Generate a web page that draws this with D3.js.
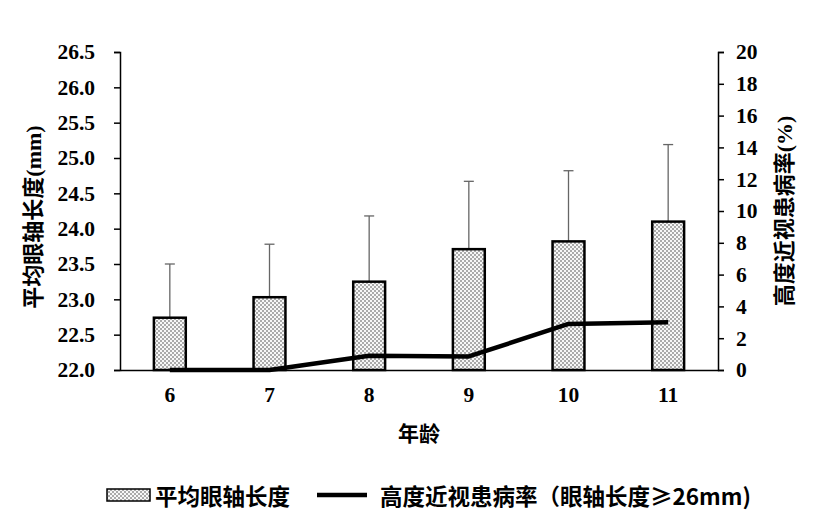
<!DOCTYPE html>
<html lang="zh">
<head>
    <meta charset="UTF-8">
    <script src="https://cdn.jsdelivr.net/npm/d3@7"></script>
    <title>平均眼轴长度</title>
    <style>
        body { margin: 0; background: #fff; }
    </style>
</head>
<body>
    <script>
        const w = 821;
        const h = 528;

        // data
        const ages = ["6", "7", "8", "9", "10", "11"];
        const axialLength = [22.74, 23.03, 23.25, 23.71, 23.82, 24.10];
        const axialSD = [0.76, 0.75, 0.93, 0.96, 1.00, 1.09];
        const highMyopia = [0, 0, 0.9, 0.85, 2.9, 3.0];
        const leftTicks = [22.0, 22.5, 23.0, 23.5, 24.0, 24.5, 25.0, 25.5, 26.0, 26.5];
        const rightTicks = [0, 2, 4, 6, 8, 10, 12, 14, 16, 18, 20];

        const plotL = 120, plotR = 718, plotT = 52, plotB = 370;
        const serif = "'Liberation Serif', 'Times New Roman', serif";
        const cjk = "'Noto Sans CJK SC', sans-serif";

        const svg = d3.select("body")
                        .append("svg")
                        .attr("width", w)
                        .attr("height", h);

        //dotted fill for the bars
        const pat = svg.append("defs")
                        .append("pattern")
                        .attr("id", "dots")
                        .attr("patternUnits", "userSpaceOnUse")
                        .attr("width", 4)
                        .attr("height", 4);
        pat.append("rect").attr("width", 4).attr("height", 4).attr("fill", "#f7f7f7");
        pat.append("circle").attr("cx", 1).attr("cy", 1).attr("r", 0.7).attr("fill", "#222");
        pat.append("circle").attr("cx", 3).attr("cy", 3).attr("r", 0.7).attr("fill", "#222");

        //scales
        const xScale = d3.scaleBand()
                            .domain(ages)
                            .range([plotL, plotR])
                            .paddingInner(0.68)
                            .paddingOuter(0.34);

        const yLeft = d3.scaleLinear()
                            .domain([22, 26.5])
                            .range([plotB, plotT]);

        const yRight = d3.scaleLinear()
                            .domain([0, 20])
                            .range([plotB, plotT]);

        //axes
        const leftAxis = svg.append("g")
            .attr("transform", "translate(" + plotL + ",0)")
            .call(d3.axisLeft(yLeft).tickValues(leftTicks).tickFormat(d3.format(".1f")).tickSize(6).tickPadding(19));

        const rightAxis = svg.append("g")
            .attr("transform", "translate(" + plotR + ",0)")
            .call(d3.axisRight(yRight).tickValues(rightTicks).tickSize(6).tickPadding(12));

        [leftAxis, rightAxis].forEach(g => {
            g.select(".domain").attr("stroke", "#000").attr("stroke-width", 1.5);
            g.selectAll(".tick line").attr("stroke", "#000").attr("stroke-width", 1.5);
            g.selectAll(".tick text")
                .attr("fill", "#000")
                .style("font-family", serif)
                .style("font-weight", "bold")
                .style("font-size", "21.5px");
        });

        //error bars (upper only)
        svg.selectAll(".err")
            .data(ages)
            .enter()
            .append("line")
            .attr("class", "err")
            .attr("x1", d => xScale(d) + xScale.bandwidth() / 2)
            .attr("x2", d => xScale(d) + xScale.bandwidth() / 2)
            .attr("y1", (d, i) => yLeft(axialLength[i]))
            .attr("y2", (d, i) => yLeft(axialLength[i] + axialSD[i]))
            .attr("stroke", "#666")
            .attr("stroke-width", 1.3);

        svg.selectAll(".cap")
            .data(ages)
            .enter()
            .append("line")
            .attr("class", "cap")
            .attr("x1", d => xScale(d) + xScale.bandwidth() / 2 - 5)
            .attr("x2", d => xScale(d) + xScale.bandwidth() / 2 + 5)
            .attr("y1", (d, i) => yLeft(axialLength[i] + axialSD[i]))
            .attr("y2", (d, i) => yLeft(axialLength[i] + axialSD[i]))
            .attr("stroke", "#666")
            .attr("stroke-width", 1.3);

        //bars
        svg.selectAll(".bar")
            .data(ages)
            .enter()
            .append("rect")
            .attr("class", "bar")
            .attr("x", d => xScale(d))
            .attr("y", (d, i) => yLeft(axialLength[i]))
            .attr("width", xScale.bandwidth())
            .attr("height", (d, i) => yLeft(22) - yLeft(axialLength[i]))
            .attr("fill", "url(#dots)")
            .attr("stroke", "#000")
            .attr("stroke-width", 2.5);

        //x axis (line only, no ticks)
        const xAxis = svg.append("g")
            .attr("transform", "translate(0," + plotB + ")")
            .call(d3.axisBottom(xScale).tickSize(0).tickPadding(17));
        xAxis.select(".domain").attr("stroke", "#000").attr("stroke-width", 1.5);
        xAxis.selectAll(".tick text")
            .attr("fill", "#000")
            .style("font-family", serif)
            .style("font-weight", "bold")
            .style("font-size", "21.5px");

        //prevalence line
        const line = d3.line()
                        .x((d, i) => xScale(ages[i]) + xScale.bandwidth() / 2)
                        .y(d => yRight(d));

        svg.append("path")
            .datum(highMyopia)
            .attr("d", line)
            .attr("fill", "none")
            .attr("stroke", "#000")
            .attr("stroke-width", 4.5)
            .attr("stroke-linejoin", "round");

        //axis titles
        svg.append("text")
            .attr("transform", "translate(33," + ((plotT + plotB) / 2 + 6) + ") rotate(-90)")
            .attr("text-anchor", "middle")
            .attr("dominant-baseline", "central")
            .style("font-family", serif + ", " + cjk)
            .style("font-weight", "bold")
            .style("font-size", "22px")
            .text("平均眼轴长度(mm)");

        svg.append("text")
            .attr("transform", "translate(784," + ((plotT + plotB) / 2) + ") rotate(-90)")
            .attr("text-anchor", "middle")
            .attr("dominant-baseline", "central")
            .style("font-family", serif + ", " + cjk)
            .style("font-weight", "bold")
            .style("font-size", "22px")
            .text("高度近视患病率(%)");

        svg.append("text")
            .attr("x", (plotL + plotR) / 2)
            .attr("y", 432)
            .attr("text-anchor", "middle")
            .attr("dominant-baseline", "central")
            .style("font-family", cjk)
            .style("font-weight", "bold")
            .style("font-size", "21px")
            .text("年龄");

        //legend
        const legend = svg.append("g").attr("transform", "translate(0,495)");

        legend.append("rect")
            .attr("x", 107)
            .attr("y", -6)
            .attr("width", 43)
            .attr("height", 12)
            .attr("fill", "url(#dots)")
            .attr("stroke", "#000")
            .attr("stroke-width", 1.5);

        legend.append("text")
            .attr("x", 155)
            .attr("y", 0)
            .attr("dominant-baseline", "central")
            .style("font-family", cjk)
            .style("font-weight", "bold")
            .style("font-size", "22.5px")
            .text("平均眼轴长度");

        legend.append("line")
            .attr("x1", 317)
            .attr("x2", 367)
            .attr("stroke", "#000")
            .attr("stroke-width", 4.5);

        legend.append("text")
            .attr("x", 380)
            .attr("y", 0)
            .attr("dominant-baseline", "central")
            .style("font-family", cjk)
            .style("font-weight", "bold")
            .style("font-size", "22.5px")
            .text("高度近视患病率（眼轴长度≥26mm)");
    </script>
</body>
</html>
